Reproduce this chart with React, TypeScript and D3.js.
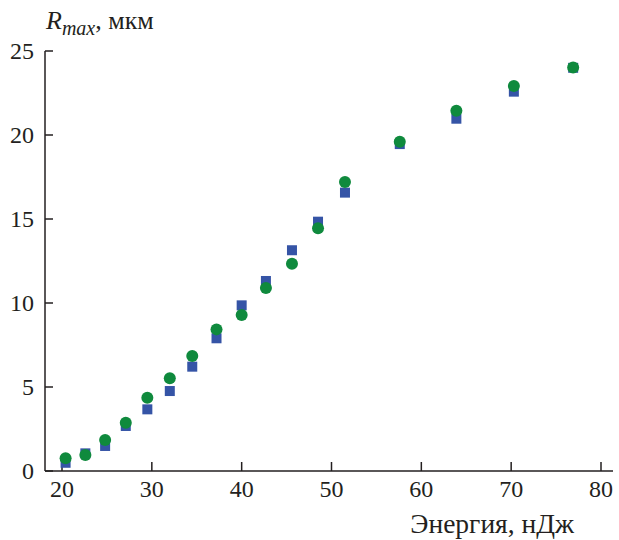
import React from "react";
import * as d3 from "d3";

const energy = [20.4, 22.6, 24.8, 27.1, 29.5, 32.0, 34.5, 37.2, 40.0, 42.7, 45.6, 48.5, 51.5, 57.6, 63.9, 70.3, 76.9];
const seriesSquares = [0.49, 1.05, 1.49, 2.68, 3.67, 4.76, 6.21, 7.9, 9.86, 11.31, 13.14, 14.84, 16.57, 19.46, 20.97, 22.58, 24.0];
const seriesCircles = [0.76, 0.95, 1.85, 2.87, 4.36, 5.52, 6.85, 8.43, 9.29, 10.89, 12.34, 14.45, 17.2, 19.6, 21.45, 22.92, 24.02];
const xTicks = [20, 30, 40, 50, 60, 70, 80];
const yTicks = [0, 5, 10, 15, 20, 25];

const W = 619;
const H = 540;
const FONT = "Liberation Serif, Tinos, Times New Roman, DejaVu Serif, serif";
const BLUE = "#3554a6";
const GREEN = "#0f8a3d";
const TEXT = "#231f20";

export default function App() {
  const x = d3.scaleLinear().domain([20, 80]).range([62, 601]);
  const y = d3.scaleLinear().domain([0, 25]).range([471, 51]);
  const x0 = 45;
  const xEnd = 613;
  const y0 = y(0);
  const sq = 10;
  const r = 6;
  const ts = { fontFamily: FONT } as React.CSSProperties;

  return (
    <svg width={W} height={H} style={{ position: "absolute", left: 0, top: 0, background: "#fff", fontFamily: FONT }}>
      {/* axes */}
      <line x1={x0} x2={xEnd} y1={y0} y2={y0} stroke={TEXT} strokeWidth={1.5} />
      <line x1={x0} x2={x0} y1={y0} y2={y(25)} stroke={TEXT} strokeWidth={1.5} />
      {xTicks.map((t) => (
        <g key={"xt" + t}>
          <line x1={x(t)} x2={x(t)} y1={y0} y2={y0 - 9} stroke={TEXT} strokeWidth={1.5} />
          <text x={x(t)} y={y0 + 26} style={ts} fontSize={24} textAnchor="middle" fill={TEXT}>
            {t}
          </text>
        </g>
      ))}
      {yTicks.map((t) => (
        <g key={"yt" + t}>
          <line x1={x0} x2={x0 + 8} y1={y(t)} y2={y(t)} stroke={TEXT} strokeWidth={1.5} />
          <text x={x0 - 11} y={y(t)} dy="0.35em" style={ts} fontSize={24} textAnchor="end" fill={TEXT}>
            {t}
          </text>
        </g>
      ))}
      {/* points */}
      {energy.map((e, i) => (
        <rect key={"s" + i} x={x(e) - sq / 2} y={y(seriesSquares[i]) - sq / 2} width={sq} height={sq} fill={BLUE} />
      ))}
      {energy.map((e, i) => (
        <circle key={"c" + i} cx={x(e)} cy={y(seriesCircles[i])} r={r} fill={GREEN} />
      ))}
      {/* titles */}
      <text x={46} y={29} style={ts} fontSize={26} fill={TEXT}>
        <tspan fontStyle="italic">R</tspan>
        <tspan fontStyle="italic" fontSize={20} dy={6}>max</tspan>
        <tspan dy={-6}>, мкм</tspan>
      </text>
      <text x={574} y={533} style={ts} fontSize={27.5} textAnchor="end" fill={TEXT}>
        Энергия, нДж
      </text>
    </svg>
  );
}
